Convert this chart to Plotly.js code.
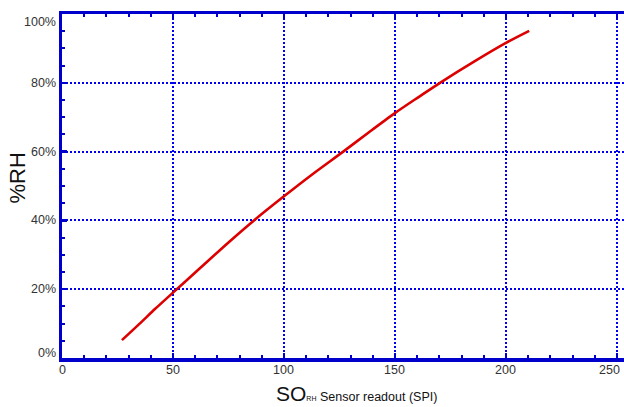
<!DOCTYPE html>
<html>
<head>
<meta charset="utf-8">
<script src="https://cdn.plot.ly/plotly-3.0.1.min.js"></script>
<style>html,body{margin:0;padding:0;background:#fff;}#chart{width:624px;height:407px;}</style>
</head>
<body>
<div id="chart"></div>
<script>
// Sensor readout (SPI) vs %RH
const readout = [27, 35, 42, 50, 62, 75, 86.5, 100, 113, 126.7, 138, 150, 161, 170.3, 186, 200, 210.5];
const humidity = [5.2, 10.0, 14.3, 19.0, 26.0, 33.6, 40.0, 47.0, 53.5, 60.0, 65.5, 71.2, 76.0, 80.0, 86.3, 91.6, 95.1];
const xTicks = [0, 50, 100, 150, 200, 250];
const xTickLabels = ["0", "50", "100", "150", "200", "250"];
const yTicks = [0, 20, 40, 60, 80, 100];
const yTickLabels = ["0%", "20%", "40%", "60%", "80%", "100%"];

const axisBlue = "#0000CC";
const gridBlue = "#0000EE";
const W = 624, H = 407;
const m = {l: 62, r: 0, t: 14, b: 49};
const pw = W - m.l - m.r, ph = H - m.t - m.b;
const px = v => (v - m.l) / pw;
const py = v => (H - m.b - v) / ph;
const tickFont = {size: 12.5, color: "#333"};

const trace = {
  x: readout, y: humidity, type: "scatter", mode: "lines",
  line: {color: "#DD0000", width: 2.6, shape: "spline", smoothing: 0.8},
  hoverinfo: "skip"
};

const annotations = [];
// y tick labels (edge labels kept inside the frame, as in the reference)
yTicks.forEach((v, i) => {
  let shift = 0;
  if (i === 0) shift = 5;
  if (i === yTicks.length - 1) shift = -7.5;
  annotations.push({xref: "paper", yref: "y", x: px(57.5), y: v, yshift: shift,
    xanchor: "right", yanchor: "middle", text: yTickLabels[i], showarrow: false, font: tickFont});
});
// x tick labels
xTicks.forEach((v, i) => {
  let shift = 0;
  if (i === xTicks.length - 1) shift = -7.5;
  annotations.push({xref: "x", yref: "paper", x: v, y: py(370), xshift: shift,
    xanchor: "center", yanchor: "middle", text: xTickLabels[i], showarrow: false, font: tickFont});
});
annotations.push(
  {xref: "paper", yref: "paper", x: px(17), y: py(178.5), xanchor: "center", yanchor: "middle",
   text: "%RH", textangle: -90, showarrow: false, font: {size: 22, color: "#111"}},
  {xref: "paper", yref: "paper", x: px(356), y: py(393), xanchor: "center", yanchor: "middle",
   borderpad: 0,
   text: "<span style='font-size:21px'>SO</span><span style='font-size:7px'>RH</span> Sensor readout (SPI)",
   showarrow: false, font: {size: 12.5, color: "#111"}}
);

const layout = {
  width: W, height: H,
  margin: m,
  paper_bgcolor: "#fff", plot_bgcolor: "#fff",
  showlegend: false,
  font: {family: "Liberation Sans, Arial, sans-serif", color: "#333", size: 12},
  xaxis: {
    range: [0, 253.2], tickvals: xTicks, showticklabels: false,
    showline: true, linecolor: axisBlue, linewidth: 3.5, mirror: "ticks",
    ticks: "inside", ticklen: 5, tickwidth: 2.5, tickcolor: axisBlue,
    showgrid: true, gridcolor: gridBlue, gridwidth: 2, griddash: "2px,2px",
    zeroline: false,
    minor: {dtick: 10, ticks: "inside", ticklen: 3, tickwidth: 2, tickcolor: axisBlue, showgrid: false}
  },
  yaxis: {
    range: [0, 100], tickvals: yTicks, showticklabels: false,
    showline: true, linecolor: axisBlue, linewidth: 3.5, mirror: false,
    ticks: "inside", ticklen: 5, tickwidth: 2.5, tickcolor: axisBlue,
    showgrid: true, gridcolor: gridBlue, gridwidth: 2, griddash: "2px,2px",
    zeroline: false,
    minor: {dtick: 5, ticks: "inside", ticklen: 3, tickwidth: 2, tickcolor: axisBlue, showgrid: false}
  },
  annotations: annotations
};

Plotly.newPlot("chart", [trace], layout, {staticPlot: true, displayModeBar: false});
</script>
</body>
</html>
